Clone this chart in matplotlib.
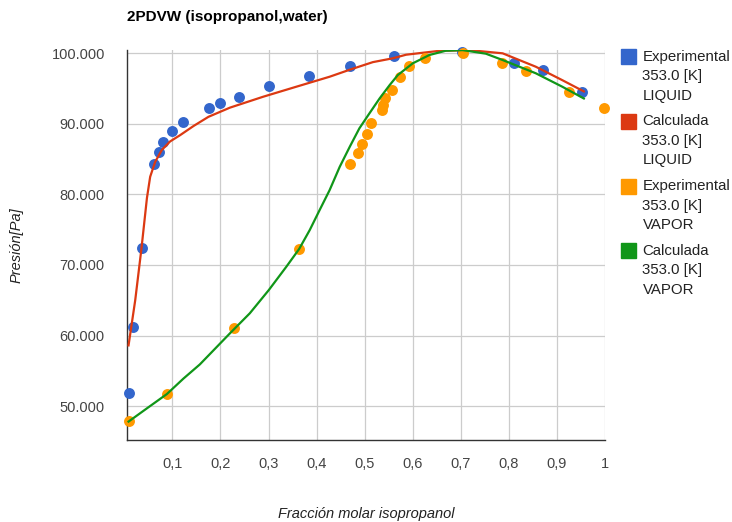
import matplotlib.pyplot as plt
from matplotlib.patches import Rectangle
from matplotlib.ticker import FuncFormatter

plt.rcParams['font.family'] = ['Liberation Sans', 'DejaVu Sans']

# Experimental LIQUID (fracción molar, presión Pa)
x_exp_liq = [0.0087, 0.017, 0.0357, 0.0627, 0.0724, 0.080, 0.0988, 0.1228, 0.1755, 0.198,
             0.238, 0.300, 0.385, 0.470, 0.560, 0.702, 0.810, 0.872, 0.953]
p_exp_liq = [51800, 61200, 72400, 84300, 86050, 87480, 88990, 90300, 92300, 93000,
             93800, 95400, 96800, 98160, 99600, 100200, 98670, 97600, 94560]

# Calculada LIQUID
x_calc_liq = [0.0087, 0.0226, 0.0357, 0.047, 0.0537, 0.064, 0.078, 0.095, 0.116, 0.144,
              0.175, 0.2197, 0.289, 0.358, 0.427, 0.470, 0.517, 0.559, 0.586, 0.655,
              0.718, 0.787, 0.856, 0.911, 0.956]
p_calc_liq = [58600, 65000, 72400, 79500, 82500, 84600, 86300, 87500, 88400, 89700,
              91000, 92300, 93850, 95270, 96680, 97700, 98750, 99300, 99800, 100350,
              100450, 100000, 98100, 96200, 94600]

# Experimental VAPOR
x_exp_vap = [0.0095, 0.0884, 0.228, 0.364, 0.470, 0.486, 0.494, 0.505, 0.514, 0.537,
             0.539, 0.543, 0.557, 0.5745, 0.593, 0.626, 0.705, 0.785, 0.835, 0.925, 0.998]
p_exp_vap = [47900, 51700, 61060, 72260, 84270, 85800, 87100, 88560, 90080, 91960,
             92670, 93600, 94800, 96600, 98240, 99300, 100050, 98600, 97500, 94470, 92300]

# Calculada VAPOR
x_calc_vap = [0.0087, 0.047, 0.0884, 0.123, 0.157, 0.2197, 0.261, 0.3006, 0.337, 0.3636,
              0.3857, 0.4064, 0.427, 0.448, 0.469, 0.489, 0.510, 0.531, 0.552, 0.569,
              0.600, 0.6346, 0.669, 0.704, 0.752, 0.787, 0.856, 0.911, 0.956]
p_calc_vap = [47800, 49680, 51700, 53900, 55900, 60310, 63150, 66450, 69750, 72260,
              74950, 77800, 80600, 83900, 86760, 89370, 91500, 93600, 95500, 96920,
              98580, 99760, 100370, 100450, 99950, 99050, 97170, 95270, 93600]

x_ticks = [0.1, 0.2, 0.3, 0.4, 0.5, 0.6, 0.7, 0.8, 0.9, 1.0]
y_ticks = [50000, 60000, 70000, 80000, 90000, 100000]

azul, rojo, naranja, verde = "#3366CC", "#DC3912", "#FF9900", "#109618"

W, H = 732, 522
fig = plt.figure(figsize=(W / 100, H / 100), dpi=100)
ax = fig.add_axes([127 / W, 1 - 440 / H, (605 - 127) / W, (440 - 50) / H])

ax.scatter(x_exp_liq, p_exp_liq, s=62, color=azul, zorder=3, clip_on=False, linewidths=0)
ax.plot(x_calc_liq, p_calc_liq, color=rojo, lw=1.6, zorder=4, solid_joinstyle="round")
ax.scatter(x_exp_vap, p_exp_vap, s=62, color=naranja, zorder=5, clip_on=False, linewidths=0)
ax.plot(x_calc_vap, p_calc_vap, color=verde, lw=1.6, zorder=6, solid_joinstyle="round")

ax.set_xlim(0.0055, 1.0)
ax.set_ylim(45190, 100470)
ax.set_xticks(x_ticks)
ax.set_yticks(y_ticks)
ax.xaxis.set_major_formatter(FuncFormatter(lambda v, p: f"{v:g}".replace(".", ",")))
ax.yaxis.set_major_formatter(FuncFormatter(lambda v, p: f"{v:,.0f}".replace(",", ".")))
ax.tick_params(length=0, labelsize=10.5, labelcolor="#444444")
ax.tick_params(axis="x", pad=12)
ax.tick_params(axis="y", pad=16)
ax.grid(True, color="#cccccc", lw=0.9, zorder=0)
ax.set_axisbelow(True)
for s in ["top", "right"]:
    ax.spines[s].set_visible(False)
for s in ["left", "bottom"]:
    ax.spines[s].set_color("#333333")
    ax.spines[s].set_linewidth(1.0)

fig.text(127 / W, 1 - 17 / H, "2PDVW (isopropanol,water)", fontsize=11, fontweight="bold",
         ha="left", va="center", color="#000000")
fig.text(366 / W, 1 - 514 / H, "Fracción molar isopropanol", fontsize=10.5, style="italic",
         ha="center", va="center", color="#222222")
fig.text(17 / W, 1 - 245 / H, "Presión[Pa]", fontsize=10.5, style="italic", rotation=90,
         ha="center", va="center", color="#222222")

# leyenda
entradas = [("Experimental", "LIQUID", azul), ("Calculada", "LIQUID", rojo),
            ("Experimental", "VAPOR", naranja), ("Calculada", "VAPOR", verde)]
for i, (nombre, fase, color) in enumerate(entradas):
    yc = 56.7 + i * 64.7
    fig.add_artist(Rectangle((621 / W, 1 - (yc + 7.5) / H), 15 / W, 15 / H,
                             transform=fig.transFigure, color=color))
    for j, linea in enumerate([nombre, "353.0 [K]", fase]):
        fig.text(642.5 / W, 1 - (yc + j * 19.5) / H, linea, fontsize=10.8,
                 ha="left", va="center", color="#222222")

fig.savefig("out.png", dpi=100)
